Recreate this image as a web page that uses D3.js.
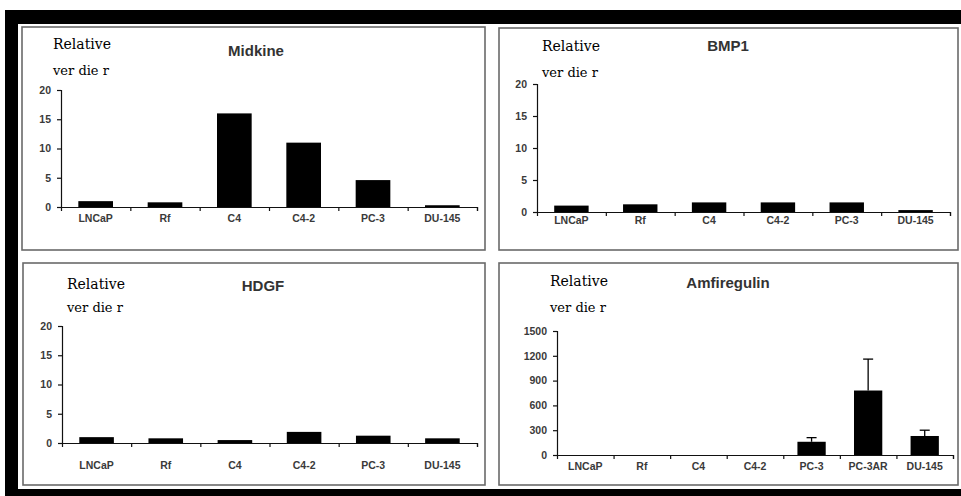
<!DOCTYPE html>
<html>
<head>
<meta charset="utf-8">
<script src="https://cdn.jsdelivr.net/npm/d3@7"></script>
<style>
  html, body { margin: 0; padding: 0; background: #fff; }
  svg { display: block; }
</style>
</head>
<body>
<svg id="chart" width="961" height="496"></svg>
<script>
// ---- data ----
const catsSix = ["LNCaP", "Rf", "C4", "C4-2", "PC-3", "DU-145"];
const catsSeven = ["LNCaP", "Rf", "C4", "C4-2", "PC-3", "PC-3AR", "DU-145"];
const midkineValues = [1.0, 0.8, 16, 11, 4.6, 0.3];
const bmp1Values = [1.0, 1.2, 1.5, 1.5, 1.5, 0.3];
const hdgfValues = [1.0, 0.8, 0.5, 1.9, 1.25, 0.8];
const amfiregulinValues = [0, 0, 0, 0, 160, 780, 230];
const amfiregulinErrors = [0, 0, 0, 0, 50, 380, 70];
const ticksTwenty = [0, 5, 10, 15, 20];
const ticksFifteenHundred = [0, 300, 600, 900, 1200, 1500];
const titles = ["Midkine", "BMP1", "HDGF", "Amfiregulin"];
const yLabelLines = ["Relative", "ver die r"];

// ---- layout ----
const panels = [
  { title: titles[0], cats: catsSix, vals: midkineValues, errs: null, ticks: ticksTwenty, max: 20,
    box: [22, 27, 485, 250], ax: [61, 477], ay: [207, 90], tpos: [256, 52], rel: [53, 45, 71], labY: 219 },
  { title: titles[1], cats: catsSix, vals: bmp1Values, errs: null, ticks: ticksTwenty, max: 20,
    box: [499, 28, 958, 250], ax: [537, 950], ay: [212, 84], tpos: [728, 47], rel: [542, 47, 73], labY: 221 },
  { title: titles[2], cats: catsSix, vals: hdgfValues, errs: null, ticks: ticksTwenty, max: 20,
    box: [23, 263, 485, 485], ax: [62, 477], ay: [443, 326], tpos: [263, 287], rel: [67, 285, 308], labY: 466 },
  { title: titles[3], cats: catsSeven, vals: amfiregulinValues, errs: amfiregulinErrors, ticks: ticksFifteenHundred, max: 1500,
    box: [499, 263, 958, 485], ax: [557, 953], ay: [455, 331], tpos: [728, 284], rel: [550, 282, 308], labY: 467 }
];

const svg = d3.select("#chart");

// outer black frame
svg.append("rect").attr("x", 5).attr("y", 10).attr("width", 956).attr("height", 14).attr("fill", "#000");
svg.append("rect").attr("x", 5).attr("y", 10).attr("width", 13).attr("height", 486).attr("fill", "#000");
svg.append("rect").attr("x", 5).attr("y", 489).attr("width", 956).attr("height", 7).attr("fill", "#000");
svg.append("rect").attr("x", 18).attr("y", 24).attr("width", 943).attr("height", 465).attr("fill", "#fff");

const sans = "Arial, 'Liberation Sans', sans-serif";
const serif = "'DejaVu Serif', 'Liberation Serif', serif";

panels.forEach(p => {
  const g = svg.append("g");
  const [bx0, by0, bx1, by1] = p.box;
  g.append("rect").attr("x", bx0).attr("y", by0).attr("width", bx1 - bx0).attr("height", by1 - by0)
    .attr("fill", "#fff").attr("stroke", "#6a6a6a").attr("stroke-width", 1.6);

  const x = d3.scaleBand().domain(p.cats).range(p.ax).paddingInner(0.5).paddingOuter(0.25);
  const y = d3.scaleLinear().domain([0, p.max]).range(p.ay);
  const idx = d3.scaleLinear().domain([0, p.cats.length]).range(p.ax);

  // bars
  g.selectAll("rect.bar").data(p.vals).join("rect").attr("class", "bar")
    .attr("x", (d, i) => x(p.cats[i]))
    .attr("width", x.bandwidth())
    .attr("y", d => y(d))
    .attr("height", d => y(0) - y(d))
    .attr("fill", "#000");

  // error bars (upper whisker only)
  if (p.errs) {
    p.vals.forEach((v, i) => {
      const e = p.errs[i];
      if (!e) return;
      const cx = x(p.cats[i]) + x.bandwidth() / 2;
      g.append("line").attr("x1", cx).attr("x2", cx).attr("y1", y(v)).attr("y2", y(v + e))
        .attr("stroke", "#000").attr("stroke-width", 1.3);
      g.append("line").attr("x1", cx - 5).attr("x2", cx + 5).attr("y1", y(v + e)).attr("y2", y(v + e))
        .attr("stroke", "#000").attr("stroke-width", 1.3);
    });
  }

  // y axis
  const yAxis = d3.axisLeft(y).tickValues(p.ticks).tickSize(4).tickPadding(6).tickFormat(d3.format("d"));
  const ya = g.append("g").attr("transform", `translate(${p.ax[0]},0)`).call(yAxis);
  ya.select(".domain").attr("stroke", "#111").attr("stroke-width", 1.2);
  ya.selectAll(".tick line").attr("stroke", "#111").attr("stroke-width", 1.2);
  ya.selectAll(".tick text").attr("font-family", sans)
    .attr("font-weight", "bold").attr("font-size", 10.5).attr("fill", "#3a3a3a");

  // x axis line and boundary ticks
  const xa = g.append("g").attr("transform", `translate(0,${p.ay[0]})`)
    .call(d3.axisBottom(idx).tickValues(d3.range(1, p.cats.length + 1)).tickSize(4).tickFormat(""));
  xa.select(".domain").attr("stroke", "#111").attr("stroke-width", 1.2);
  xa.selectAll(".tick line").attr("stroke", "#111").attr("stroke-width", 1.2);

  // category labels
  const xl = g.append("g").attr("transform", `translate(0,${p.labY - 4})`)
    .call(d3.axisBottom(x).tickSize(0).tickPadding(0));
  xl.select(".domain").remove();
  xl.selectAll(".tick text").attr("font-family", sans)
    .attr("font-weight", "bold").attr("font-size", 10.5).attr("fill", "#3a3a3a");

  // title
  g.append("text").attr("x", p.tpos[0]).attr("y", p.tpos[1]).attr("text-anchor", "middle")
    .attr("dominant-baseline", "middle")
    .attr("font-family", sans).attr("font-weight", "bold")
    .attr("font-size", 15).attr("fill", "#333").text(p.title);

  // y label (two lines)
  g.append("text").attr("x", p.rel[0]).attr("y", p.rel[1]).attr("dominant-baseline", "middle")
    .attr("font-family", serif).attr("font-size", 14)
    .attr("fill", "#000").text(yLabelLines[0]);
  g.append("text").attr("x", p.rel[0]).attr("y", p.rel[2]).attr("dominant-baseline", "middle")
    .attr("font-family", serif).attr("font-size", 13)
    .attr("fill", "#000").text(yLabelLines[1]);
});
</script>
</body>
</html>
